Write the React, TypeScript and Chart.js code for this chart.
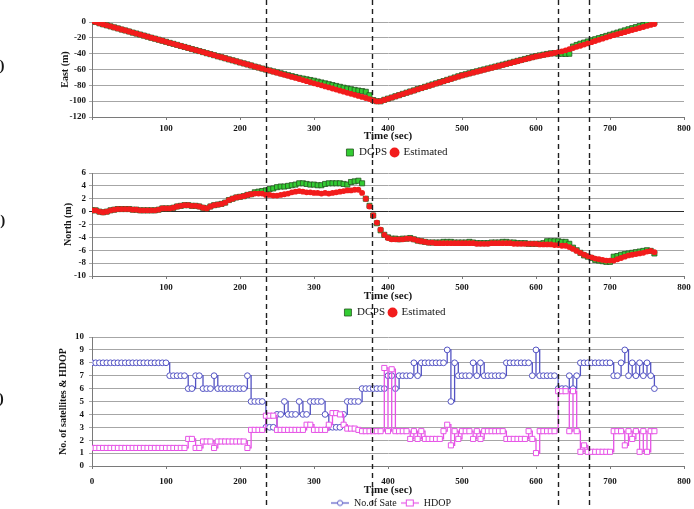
import React, { useEffect, useRef } from "react";
import { Chart, registerables } from "chart.js";

Chart.register(...registerables);

// Sampling grid shared by all three panels (seconds)
const SAMPLE_STEP = 5;
const SAMPLE_COUNT = 153;
const TIME = Array.from({ length: SAMPLE_COUNT }, (_, i) => i * SAMPLE_STEP);

// Moments of interest marked by dashed vertical lines (seconds)
const EVENT_TIMES = [235, 378, 630, 672];

// East position (m)
const EAST_DGPS = [
  1.0, 0.0, -1.6, -2.9, -4.2, -5.5, -6.8, -8.1, -9.5, -10.7,
  -12.0, -13.4, -14.6, -15.9, -17.2, -18.5, -19.9, -21.1, -22.4, -23.7,
  -25.0, -26.4, -27.6, -28.9, -30.3, -31.5, -32.8, -34.2, -35.4, -36.7,
  -38.0, -39.4, -40.6, -41.9, -43.3, -44.5, -45.8, -47.2, -48.4, -49.7,
  -51.1, -52.3, -53.6, -54.9, -56.3, -57.5, -58.8, -60.1, -61.2, -62.4,
  -63.6, -64.8, -66.0, -67.2, -68.4, -69.5, -70.6, -71.5, -72.4, -73.3,
  -74.2, -75.3, -76.4, -77.5, -78.6, -79.7, -80.8, -81.9, -83.0, -84.0,
  -84.9, -85.8, -86.6, -87.3, -88.2, -92.5, -98.6, -100.1, -100.2, -98.3,
  -96.8, -95.4, -93.8, -92.4, -90.8, -89.3, -87.8, -86.4, -84.8, -83.4,
  -81.9, -80.4, -78.9, -77.5, -76.0, -74.6, -73.1, -71.6, -70.1, -68.6,
  -67.2, -66.0, -64.8, -63.5, -62.3, -61.1, -59.9, -58.7, -57.5, -56.3,
  -55.1, -53.9, -52.7, -51.5, -50.3, -49.1, -47.9, -46.7, -45.5, -44.3,
  -43.1, -42.2, -41.3, -40.4, -39.6, -39.5, -40.0, -40.2, -40.3, -40.1,
  -31.0, -29.0, -27.4, -26.0, -24.6, -23.2, -21.8, -20.4, -19.0, -17.6,
  -16.2, -14.8, -13.4, -12.0, -10.6, -9.2, -7.8, -6.5, -5.2, -3.9,
  -2.6, -1.3, -0.4,
];
const EAST_EST = [
  1.0, 0.0, -1.6, -2.9, -4.2, -5.5, -6.8, -8.1, -9.5, -10.7,
  -12.0, -13.4, -14.6, -15.9, -17.2, -18.5, -19.9, -21.1, -22.4, -23.7,
  -25.0, -26.4, -27.6, -28.9, -30.3, -31.5, -32.8, -34.2, -35.4, -36.7,
  -38.0, -39.4, -40.6, -41.9, -43.3, -44.5, -45.8, -47.2, -48.4, -49.7,
  -51.1, -52.3, -53.6, -54.9, -56.3, -57.5, -58.8, -60.1, -61.4, -62.7,
  -64.0, -65.4, -66.7, -68.0, -69.4, -70.7, -72.0, -73.4, -74.7, -76.0,
  -77.4, -78.7, -80.0, -81.4, -82.7, -84.0, -85.4, -86.7, -88.0, -89.4,
  -90.7, -92.0, -93.4, -94.7, -96.0, -97.4, -99.0, -100.2, -100.0, -98.5,
  -97.0, -95.5, -94.0, -92.5, -91.0, -89.5, -88.0, -86.6, -85.0, -83.6,
  -82.2, -80.7, -79.3, -77.8, -76.4, -74.9, -73.5, -72.0, -70.5, -69.0,
  -67.6, -66.4, -65.2, -64.0, -62.8, -61.6, -60.4, -59.2, -58.0, -56.8,
  -55.6, -54.4, -53.2, -52.0, -50.8, -49.6, -48.4, -47.2, -46.0, -44.8,
  -43.6, -42.7, -41.8, -40.9, -40.0, -39.1, -38.2, -37.0, -35.8, -34.3,
  -32.9, -31.4, -30.0, -28.5, -27.0, -25.5, -24.0, -22.5, -21.0, -19.5,
  -18.0, -16.7, -15.4, -14.1, -12.8, -11.4, -10.1, -8.9, -7.6, -6.3,
  -5.0, -3.7, -2.5,
];

// North position (m)
const NORTH_DGPS = [
  0.2, 0.2, 0.0, -0.1, 0.0, 0.2, 0.3, 0.4, 0.4, 0.4,
  0.4, 0.3, 0.3, 0.2, 0.2, 0.2, 0.2, 0.2, 0.3, 0.5,
  0.5, 0.5, 0.6, 0.8, 0.9, 1.0, 1.0, 0.9, 0.9, 0.8,
  0.6, 0.5, 0.8, 1.0, 1.1, 1.2, 1.4, 1.8, 2.0, 2.2,
  2.3, 2.4, 2.6, 2.7, 3.0, 3.1, 3.2, 3.3, 3.5, 3.6,
  3.8, 3.9, 3.9, 4.0, 4.1, 4.2, 4.4, 4.4, 4.3, 4.2,
  4.2, 4.1, 4.1, 4.3, 4.4, 4.4, 4.4, 4.4, 4.3, 4.2,
  4.6, 4.7, 4.8, 4.4, 2.0, 0.9, -0.6, -1.8, -2.9, -3.6,
  -4.0, -4.2, -4.2, -4.3, -4.2, -4.2, -4.1, -4.3, -4.5, -4.6,
  -4.7, -4.8, -4.8, -4.8, -4.8, -4.7, -4.7, -4.7, -4.8, -4.8,
  -4.8, -4.8, -4.7, -4.8, -4.9, -4.9, -4.9, -4.9, -4.8, -4.8,
  -4.8, -4.7, -4.7, -4.8, -4.8, -4.9, -4.9, -4.9, -5.0, -5.0,
  -5.0, -5.0, -4.9, -4.6, -4.6, -4.6, -4.6, -4.7, -4.7, -5.0,
  -5.6, -6.0, -6.4, -6.8, -7.0, -7.2, -7.5, -7.6, -7.7, -7.8,
  -7.8, -7.0, -6.9, -6.7, -6.6, -6.5, -6.4, -6.3, -6.2, -6.1,
  -6.0, -6.1, -6.5,
];
const NORTH_EST = [
  0.2, 0.2, 0.0, -0.1, 0.0, 0.2, 0.3, 0.4, 0.4, 0.4,
  0.4, 0.3, 0.3, 0.2, 0.2, 0.2, 0.2, 0.2, 0.3, 0.5,
  0.5, 0.5, 0.6, 0.8, 0.9, 1.0, 1.0, 0.9, 0.9, 0.8,
  0.6, 0.5, 0.8, 1.0, 1.1, 1.2, 1.4, 1.8, 2.0, 2.2,
  2.3, 2.4, 2.6, 2.7, 2.8, 2.8, 2.8, 2.6, 2.6, 2.5,
  2.5, 2.6, 2.7, 2.8, 3.0, 3.1, 3.2, 3.1, 3.0, 3.0,
  2.9, 2.9, 2.8, 2.9, 2.8, 2.9, 3.0, 3.1, 3.2, 3.3,
  3.3, 3.4, 3.4, 2.9, 2.0, 0.8, -0.6, -1.7, -2.8, -3.6,
  -4.1, -4.3, -4.3, -4.3, -4.3, -4.2, -4.2, -4.3, -4.5, -4.6,
  -4.7, -4.8, -4.8, -4.9, -4.9, -4.9, -4.9, -4.9, -4.9, -4.9,
  -4.9, -4.9, -4.9, -4.9, -5.0, -5.0, -5.0, -5.0, -4.9, -4.9,
  -4.9, -4.9, -4.9, -4.9, -5.0, -5.0, -5.0, -5.0, -5.0, -5.0,
  -5.0, -5.1, -5.1, -5.1, -5.1, -5.2, -5.2, -5.3, -5.3, -5.5,
  -5.8, -6.1, -6.4, -6.7, -6.9, -7.1, -7.3, -7.4, -7.5, -7.6,
  -7.6, -7.6, -7.4, -7.2, -7.0, -6.8, -6.7, -6.6, -6.5, -6.4,
  -6.2, -6.1, -6.3,
];

// Number of satellites in view
const SAT_COUNT = [
  8, 8, 8, 8, 8, 8, 8, 8, 8, 8,
  8, 8, 8, 8, 8, 8, 8, 8, 8, 8,
  8, 7, 7, 7, 7, 7, 6, 6, 7, 7,
  6, 6, 6, 7, 6, 6, 6, 6, 6, 6,
  6, 6, 7, 5, 5, 5, 5, 3, 3, 3,
  4, 4, 5, 4, 4, 4, 5, 4, 4, 5,
  5, 5, 5, 4, 3, 3, 3, 3, 4, 5,
  5, 5, 5, 6, 6, 6, 6, 6, 6, 6,
  7, 7, 6, 7, 7, 7, 7, 8, 7, 8,
  8, 8, 8, 8, 8, 8, 9, 5, 8, 7,
  7, 7, 7, 8, 7, 8, 7, 7, 7, 7,
  7, 7, 8, 8, 8, 8, 8, 8, 8, 7,
  9, 7, 7, 7, 7, 7, 6, 6, 6, 7,
  6, 7, 8, 8, 8, 8, 8, 8, 8, 8,
  8, 7, 7, 8, 9, 7, 8, 7, 8, 7,
  8, 7, 6,
];

// Horizontal dilution of precision
const HDOP = [
  1.4, 1.4, 1.4, 1.4, 1.4, 1.4, 1.4, 1.4, 1.4, 1.4,
  1.4, 1.4, 1.4, 1.4, 1.4, 1.4, 1.4, 1.4, 1.4, 1.4,
  1.4, 1.4, 1.4, 1.4, 1.4, 1.4, 2.1, 2.1, 1.4, 1.4,
  1.9, 1.9, 1.9, 1.4, 1.9, 1.9, 1.9, 1.9, 1.9, 1.9,
  1.9, 1.9, 1.4, 2.8, 2.8, 2.8, 2.8, 3.9, 3.9, 3.9,
  2.8, 2.8, 2.8, 2.8, 2.8, 2.8, 2.8, 2.8, 3.2, 3.2,
  2.8, 2.8, 2.8, 2.8, 3.2, 4.1, 4.1, 4.0, 3.2, 2.9,
  2.9, 2.9, 2.8, 2.7, 2.7, 2.7, 2.7, 2.7, 2.7, 7.6,
  2.7, 7.5, 2.7, 2.7, 2.7, 2.7, 2.1, 2.7, 2.1, 2.7,
  2.1, 2.1, 2.1, 2.1, 2.1, 2.7, 3.2, 1.6, 2.7, 2.1,
  2.7, 2.7, 2.7, 2.1, 2.7, 2.1, 2.7, 2.7, 2.7, 2.7,
  2.7, 2.7, 2.1, 2.1, 2.1, 2.1, 2.1, 2.1, 2.7, 2.1,
  1.0, 2.7, 2.7, 2.7, 2.7, 2.7, 5.8, 5.8, 5.8, 2.7,
  5.8, 2.7, 1.1, 1.6, 1.1, 1.1, 1.1, 1.1, 1.1, 1.1,
  1.1, 2.7, 2.7, 2.7, 1.6, 2.7, 2.1, 2.7, 1.1, 2.7,
  1.1, 2.7, 2.7,
];

const SERIF = "'Liberation Serif', 'Times New Roman', serif";
const INK = "#151515";
const GRID = "#a6a6a6";
const AXIS = "#7a7a7a";
const TICK_FONT = { family: SERIF, size: 9, weight: "bold" as const };
const XTITLE_FONT = { family: SERIF, size: 11, weight: "bold" as const };
const YTITLE_FONT = { family: SERIF, size: 10, weight: "bold" as const };
const LEGEND_FONT = { family: SERIF, size: 11 };

const GREEN = "#33cc33";
const GREEN_EDGE = "#25551f";
const RED = "#f21c1c";
const SAT_BLUE = "#5454c4";
const HDOP_PINK = "#e652e6";

const pts = (values: number[]) => TIME.map((t, i) => ({ x: t, y: values[i] }));

// Dashed vertical markers drawn across the whole canvas height
const eventLines = {
  id: "eventLines",
  afterDraw(chart: any) {
    const { ctx } = chart;
    const xs = chart.scales.x;
    ctx.save();
    ctx.strokeStyle = "#1e1e1e";
    ctx.lineWidth = 1.4;
    ctx.setLineDash([5, 4]);
    for (const t of EVENT_TIMES) {
      const x = Math.round(xs.getPixelForValue(t)) + 0.5;
      ctx.beginPath();
      ctx.moveTo(x, 0);
      ctx.lineTo(x, chart.height);
      ctx.stroke();
    }
    ctx.restore();
  },
};

// Nudges the legend block sideways after layout
const legendShift = {
  id: "legendShift",
  afterLayout(chart: any, _args: any, opts: any) {
    const lg = chart.legend;
    if (!lg) return;
    const dx = (opts && opts.dx) || 0;
    lg.left += dx;
    lg.right += dx;
  },
};

function timeAxis(showZero: boolean, height: number, labelPad: number, titlePadBottom: number) {
  return {
    type: "linear" as const,
    min: 0,
    max: 800,
    afterFit: (s: any) => {
      s.height = height;
      s.paddingLeft = 0;
      s.paddingRight = 0;
    },
    ticks: {
      stepSize: 100,
      autoSkip: false,
      maxRotation: 0,
      padding: labelPad,
      font: TICK_FONT,
      color: INK,
      callback: (v: any) => (!showZero && v === 0 ? "" : String(v)),
    },
    grid: { drawOnChartArea: false, drawTicks: true, tickLength: 3, color: AXIS },
    border: { color: AXIS },
    title: {
      display: true,
      text: "Time (sec)",
      font: XTITLE_FONT,
      color: INK,
      padding: { top: 0, bottom: titlePadBottom },
    },
  };
}

function valueAxis(
  min: number,
  max: number,
  step: number,
  title: string,
  width: number,
  labelPad: number,
  zeroDark: boolean
) {
  return {
    min,
    max,
    afterFit: (s: any) => {
      s.width = width;
    },
    ticks: { stepSize: step, autoSkip: false, padding: labelPad, font: TICK_FONT, color: INK },
    grid: {
      color: (c: any) => (zeroDark && c.tick && c.tick.value === 0 ? "#2a2a2a" : GRID),
      tickLength: 3,
    },
    border: { color: AXIS },
    title: { display: true, text: title, font: YTITLE_FONT, color: INK, padding: 0 },
  };
}

function legendOpts(maxHeight: number, extra: any = {}) {
  return {
    position: "bottom" as const,
    fullSize: false,
    maxHeight,
    labels: {
      usePointStyle: true,
      boxWidth: 7,
      boxHeight: 7,
      padding: 4,
      font: LEGEND_FONT,
      color: INK,
      sort: (a: any, b: any) => a.datasetIndex - b.datasetIndex,
      ...extra,
    },
  };
}

function positionDatasets(dgps: number[], est: number[]) {
  return [
    {
      label: "DGPS",
      data: pts(dgps),
      order: 1,
      showLine: false,
      pointStyle: "rect",
      pointRadius: 3.6,
      pointBackgroundColor: GREEN,
      pointBorderColor: GREEN_EDGE,
      pointBorderWidth: 0.8,
      backgroundColor: GREEN,
      borderColor: GREEN_EDGE,
      borderWidth: 0.8,
    },
    {
      label: "Estimated",
      data: pts(est),
      order: 0,
      showLine: false,
      pointStyle: "circle",
      pointRadius: 2.9,
      pointBackgroundColor: RED,
      pointBorderColor: RED,
      pointBorderWidth: 0,
      backgroundColor: RED,
      borderColor: RED,
      borderWidth: 0,
    },
  ];
}

function lineMarkerIcon(color: string, shape: "circle" | "rect") {
  const c = document.createElement("canvas");
  c.width = 18;
  c.height = 9;
  const g = c.getContext("2d")!;
  g.strokeStyle = color;
  g.lineWidth = 1.2;
  g.beginPath();
  g.moveTo(0, 4.5);
  g.lineTo(18, 4.5);
  g.stroke();
  g.fillStyle = "#ffffff";
  g.lineWidth = 1;
  if (shape === "circle") {
    g.beginPath();
    g.arc(9, 4.5, 2.6, 0, Math.PI * 2);
    g.fill();
    g.stroke();
  } else {
    g.fillRect(5.5, 1.5, 7, 6);
    g.strokeRect(5.5, 1.5, 7, 6);
  }
  return c;
}

const baseOptions = {
  responsive: false,
  maintainAspectRatio: false,
  animation: false as const,
  events: [] as any[],
};

function eastConfig(): any {
  return {
    type: "line",
    data: { datasets: positionDatasets(EAST_DGPS, EAST_EST) },
    options: {
      ...baseOptions,
      layout: { padding: { top: 22, left: 59, right: 10, bottom: 0 } },
      scales: {
        x: timeAxis(false, 26, 3, 0),
        y: valueAxis(-120, 0, 20, "East (m)", 33, 3, false),
      },
      plugins: {
        legend: legendOpts(17),
        tooltip: { enabled: false },
        legendShift: { dx: 9 },
      },
    },
    plugins: [legendShift, eventLines],
  };
}

function northConfig(): any {
  return {
    type: "line",
    data: { datasets: positionDatasets(NORTH_DGPS, NORTH_EST) },
    options: {
      ...baseOptions,
      layout: { padding: { top: 13, left: 62, right: 10, bottom: 0 } },
      scales: {
        x: timeAxis(false, 27, 3, 0),
        y: valueAxis(-10, 6, 2, "North (m)", 30, 3, true),
      },
      plugins: {
        legend: legendOpts(17),
        tooltip: { enabled: false },
        legendShift: { dx: 7 },
      },
    },
    plugins: [legendShift, eventLines],
  };
}

function qualityConfig(): any {
  const icons = [lineMarkerIcon(SAT_BLUE, "circle"), lineMarkerIcon(HDOP_PINK, "rect")];
  return {
    type: "line",
    data: {
      datasets: [
        {
          label: "No.of Sate",
          data: pts(SAT_COUNT),
          order: 1,
          stepped: "before",
          borderColor: SAT_BLUE,
          borderWidth: 1.3,
          pointStyle: "circle",
          pointRadius: 2.9,
          pointBackgroundColor: "#ffffff",
          pointBorderColor: SAT_BLUE,
          pointBorderWidth: 1,
          backgroundColor: "#ffffff",
        },
        {
          label: "HDOP",
          data: pts(HDOP),
          order: 0,
          stepped: "before",
          borderColor: HDOP_PINK,
          borderWidth: 1.3,
          pointStyle: "rect",
          pointRadius: 3.6,
          pointBackgroundColor: "#ffffff",
          pointBorderColor: HDOP_PINK,
          pointBorderWidth: 1,
          backgroundColor: "#ffffff",
        },
      ],
    },
    options: {
      ...baseOptions,
      layout: { padding: { top: 17, left: 57, right: 10, bottom: 0 } },
      scales: {
        x: timeAxis(true, 28, 7, -3),
        y: valueAxis(0, 10, 1, "No. of satellites & HDOP", 35, 5, false),
      },
      plugins: {
        legend: legendOpts(15, {
          font: { family: SERIF, size: 10 },
          pointStyleWidth: 18,
          generateLabels: (chart: any) =>
            Chart.defaults.plugins.legend.labels
              .generateLabels(chart)
              .map((l: any) => ({ ...l, pointStyle: icons[l.datasetIndex] })),
        }),
        tooltip: { enabled: false },
        legendShift: { dx: 3 },
      },
    },
    plugins: [legendShift, eventLines],
  };
}

function Panel({ top, height, build }: { top: number; height: number; build: () => any }) {
  const ref = useRef<HTMLCanvasElement>(null);
  useEffect(() => {
    const chart = new Chart(ref.current as HTMLCanvasElement, build());
    return () => chart.destroy();
  }, []);
  return (
    <div style={{ position: "absolute", left: 0, top, width: 694, height }}>
      <canvas ref={ref} width={694} height={height} style={{ display: "block" }} />
    </div>
  );
}

const tagStyle = (top: number): React.CSSProperties => ({
  position: "absolute",
  left: -13,
  top,
  fontFamily: SERIF,
  fontWeight: "bold",
  fontSize: 15,
  lineHeight: "15px",
  color: INK,
  whiteSpace: "nowrap",
});

export default function App() {
  return (
    <div
      style={{
        position: "absolute",
        left: 0,
        top: 0,
        width: 694,
        height: 509,
        overflow: "hidden",
        background: "#ffffff",
      }}
    >
      <Panel top={0} height={160} build={eastConfig} />
      <Panel top={160} height={160} build={northConfig} />
      <Panel top={320} height={189} build={qualityConfig} />
      <span style={tagStyle(58)}>(a)</span>
      <span style={tagStyle(213)}>(b)</span>
      <span style={tagStyle(391)}>(c)</span>
    </div>
  );
}
